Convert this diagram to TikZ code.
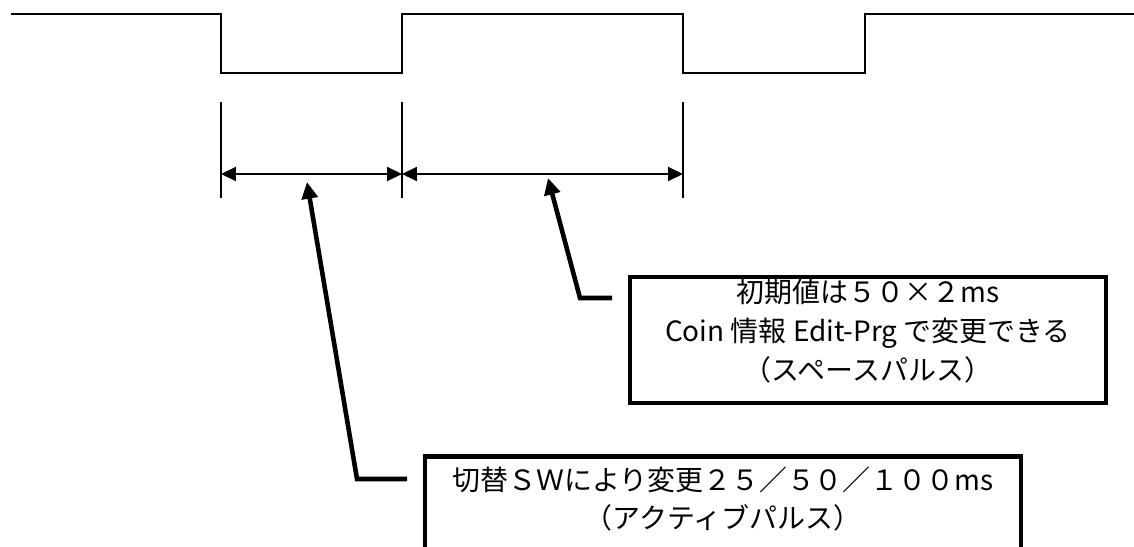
\documentclass[tikz,border=0pt]{standalone}
\usepackage{fontspec}
\setmainfont{Noto Sans CJK JP}
\usetikzlibrary{arrows.meta}

\begin{document}
\begin{tikzpicture}[x=0.02cm, y=-0.02cm,
	wave/.style={line width=1.7pt},
	tick/.style={line width=1.1pt},
	dim/.style={line width=0.9pt, {Triangle[length=8.5pt,width=8pt]}-{Triangle[length=8.5pt,width=8pt]}},
	leader/.style={line width=2.6pt, -{Triangle[length=9.5pt,width=9pt]}},
	frame/.style={draw, line width=2.5pt, inner sep=0pt},
	note/.style={align=center, font=\fontsize{15.9pt}{22pt}\selectfont}]
	\useasboundingbox (0,0) rectangle (1134,547);
	% pulse train
	\draw[wave] (11,14) -- (221,14) -- (221,73) -- (402,73) -- (402,14) -- (683,14) -- (683,73) -- (865,73) -- (865,14) -- (1134,14);
	% edges
	\foreach \x in {221,402,683}
		\draw[tick] (\x,102) -- (\x,198);
	\coordinate (d1) at (221,174);
	\coordinate (d2) at (402,174);
	\coordinate (d3) at (683,174);
	\draw[dim] (d1) -- (d2);
	\draw[dim] (d2) -- (d3);
	% space pulse note
	\node[frame, minimum width=9.52cm, minimum height=2.52cm] (spframe) at (868,340) {};
	\node[note] (sptext) at (868,331) {初期値は５０×２ms \\ Coin 情報 Edit-Prg で変更できる \\ （スペースパルス）};
	% active pulse note
	\node[frame, minimum width=11.92cm, minimum height=3.26cm] (actframe) at (723,538) {};
	\node[note] (acttext) at (723,499) {切替ＳＷにより変更２５／５０／１００ms \\ （アクティブパルス）};
	% leaders
	\coordinate (e1) at (407,479);
	\coordinate (k1) at (357,479);
	\coordinate (p1) at (307,182);
	\draw[leader] (e1) -- (k1) -- (p1);
	\coordinate (e2) at (612,298);
	\coordinate (k2) at (580,298);
	\coordinate (p2) at (548,178);
	\draw[leader] (e2) -- (k2) -- (p2);
\end{tikzpicture}
\end{document}
